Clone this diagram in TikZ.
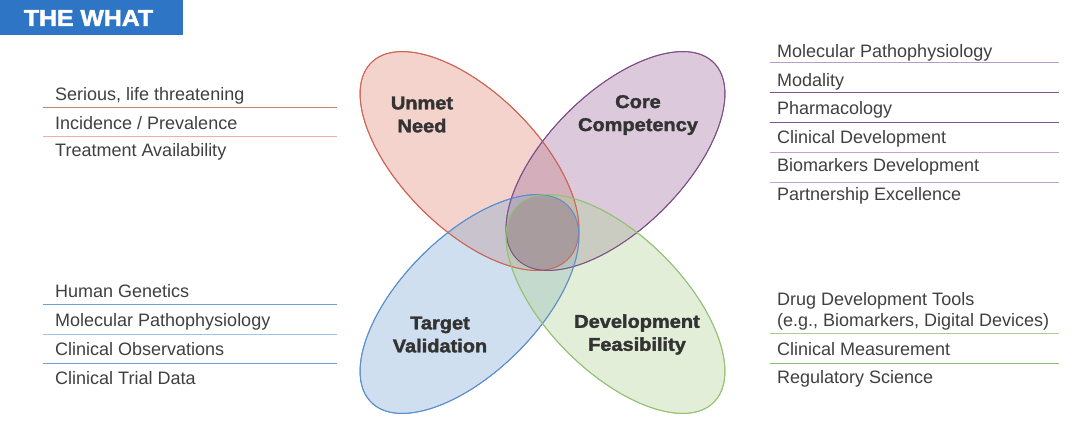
\documentclass[tikz,border=0pt]{standalone}
\usepackage{fontspec}
\setmainfont{Liberation Sans}
\newfontfamily\heavyfont[UprightFont={* Bold},FakeStretch=1.08,FakeBold=2]{Liberation Sans}
\definecolor{titleblue}{RGB}{46,117,198}
\definecolor{redC}{RGB}{224,129,109}
\definecolor{purC}{RGB}{155,106,155}
\definecolor{bluC}{RGB}{121,166,212}
\definecolor{grnC}{RGB}{172,209,144}
\definecolor{redL}{RGB}{208,100,84}
\definecolor{purL}{RGB}{126,80,136}
\definecolor{bluL}{RGB}{90,142,206}
\definecolor{grnL}{RGB}{150,194,118}
\definecolor{centerC}{RGB}{168,156,158}
\definecolor{txt}{RGB}{64,64,64}
\definecolor{lbl}{RGB}{51,51,51}
\definecolor{ruleRa}{RGB}{200,128,110}
\definecolor{ruleRb}{RGB}{242,175,160}
\definecolor{rulePa}{RGB}{184,156,196}
\definecolor{rulePb}{RGB}{128,85,143}
\definecolor{rulePc}{RGB}{192,164,204}
\definecolor{ruleBa}{RGB}{106,159,216}
\definecolor{ruleBb}{RGB}{157,195,234}
\definecolor{ruleGa}{RGB}{168,208,140}
\definecolor{ruleGb}{RGB}{143,192,112}
\begin{document}
\begin{tikzpicture}[x=1pt,y=-1pt,
  redpos/.style={shift={(469.5,161)},rotate=-45},
  purpos/.style={shift={(615.5,161)},rotate=45},
  blupos/.style={shift={(469.5,304)},rotate=45},
  grnpos/.style={shift={(615.5,304)},rotate=-45},
  petal/.style={line width=0.9pt,fill opacity=0.35},
  petalline/.style={line width=0.9pt},
  listtext/.style={anchor=base west,inner sep=0pt,text=txt,font=\fontsize{18}{21}\selectfont},
  petallabel/.style={align=center,inner sep=0pt,text=lbl,font=\heavyfont\fontsize{18.5}{23}\selectfont},
  rulel/.style={line width=1pt}]
\useasboundingbox (0,0) rectangle (1080,429);
\fill[white] (0,0) rectangle (1080,429);
% title
\node[fill=titleblue,minimum width=183pt,minimum height=35pt,anchor=north west,inner sep=0pt] (title) at (0,0) {};
\node[text=white,inner sep=0pt,font=\heavyfont\fontsize{23}{26}\selectfont] (titletext) at (88.5,18) {THE WHAT};
% petals
\draw[petal,draw=redL,fill=redC,redpos] (0,0) ellipse [x radius=139,y radius=68];
\draw[petal,draw=purL,fill=purC,purpos] (0,0) ellipse [x radius=139,y radius=68];
\draw[petal,draw=bluL,fill=bluC,blupos] (0,0) ellipse [x radius=139,y radius=68];
\draw[petal,draw=grnL,fill=grnC,grnpos] (0,0) ellipse [x radius=139,y radius=68];
\begin{scope}
  \clip[redpos] (0,0) ellipse [x radius=139,y radius=68];
  \clip[purpos] (0,0) ellipse [x radius=139,y radius=68];
  \clip[blupos] (0,0) ellipse [x radius=139,y radius=68];
  \clip[grnpos] (0,0) ellipse [x radius=139,y radius=68];
  \fill[centerC] (400,150) rectangle (700,320);
\end{scope}
\draw[petalline,draw=redL,redpos] (0,0) ellipse [x radius=139,y radius=68];
\draw[petalline,draw=purL,purpos] (0,0) ellipse [x radius=139,y radius=68];
\draw[petalline,draw=bluL,blupos] (0,0) ellipse [x radius=139,y radius=68];
\draw[petalline,draw=grnL,grnpos] (0,0) ellipse [x radius=139,y radius=68];
% petal labels
\node[petallabel] (unmet) at (422,114.5) {Unmet\\Need};
\node[petallabel] (core) at (638,115) {Core\\Competency};
\node[petallabel] (target) at (440,334.5) {Target\\Validation};
\node[petallabel] (devfeas) at (637,334.5) {Development\\Feasibility};
% left top list
\node[listtext] (lt1) at (55,100.5) {Serious, life threatening};
\node[listtext] (lt2) at (55,129) {Incidence / Prevalence};
\node[listtext] (lt3) at (55,156.5) {Treatment Availability};
\draw[rulel,draw=ruleRa] (43,107) -- (337,107);
\draw[rulel,draw=ruleRb] (43,136.5) -- (337,136.5);
% right top list
\node[listtext] (rt1) at (777,57) {Molecular Pathophysiology};
\node[listtext] (rt2) at (777,86) {Modality};
\node[listtext] (rt3) at (777,114.5) {Pharmacology};
\node[listtext] (rt4) at (777,143) {Clinical Development};
\node[listtext] (rt5) at (777,171.5) {Biomarkers Development};
\node[listtext] (rt6) at (777,200) {Partnership Excellence};
\draw[rulel,draw=rulePa] (770,62) -- (1059,62);
\draw[rulel,draw=rulePb] (770,92) -- (1059,92);
\draw[rulel,draw=rulePb] (770,122) -- (1059,122);
\draw[rulel,draw=rulePc] (770,152) -- (1059,152);
\draw[rulel,draw=rulePc] (770,182.5) -- (1059,182.5);
% left bottom list
\node[listtext] (lb1) at (55,297.7) {Human Genetics};
\node[listtext] (lb2) at (55,326.7) {Molecular Pathophysiology};
\node[listtext] (lb3) at (55,355.7) {Clinical Observations};
\node[listtext] (lb4) at (55,384) {Clinical Trial Data};
\draw[rulel,draw=ruleBa] (43,304.3) -- (337,304.3);
\draw[rulel,draw=ruleBb] (43,334) -- (337,334);
\draw[rulel,draw=ruleBa] (43,363.7) -- (337,363.7);
% right bottom list
\node[listtext] (rb1) at (777,305) {Drug Development Tools};
\node[listtext] (rb1b) at (777,326.7) {(e.g., Biomarkers, Digital Devices)};
\node[listtext] (rb2) at (777,355) {Clinical Measurement};
\node[listtext] (rb3) at (777,383.3) {Regulatory Science};
\draw[rulel,draw=ruleGa] (770,333.3) -- (1059,333.3);
\draw[rulel,draw=ruleGb] (770,363.3) -- (1059,363.3);
\end{tikzpicture}
\end{document}
